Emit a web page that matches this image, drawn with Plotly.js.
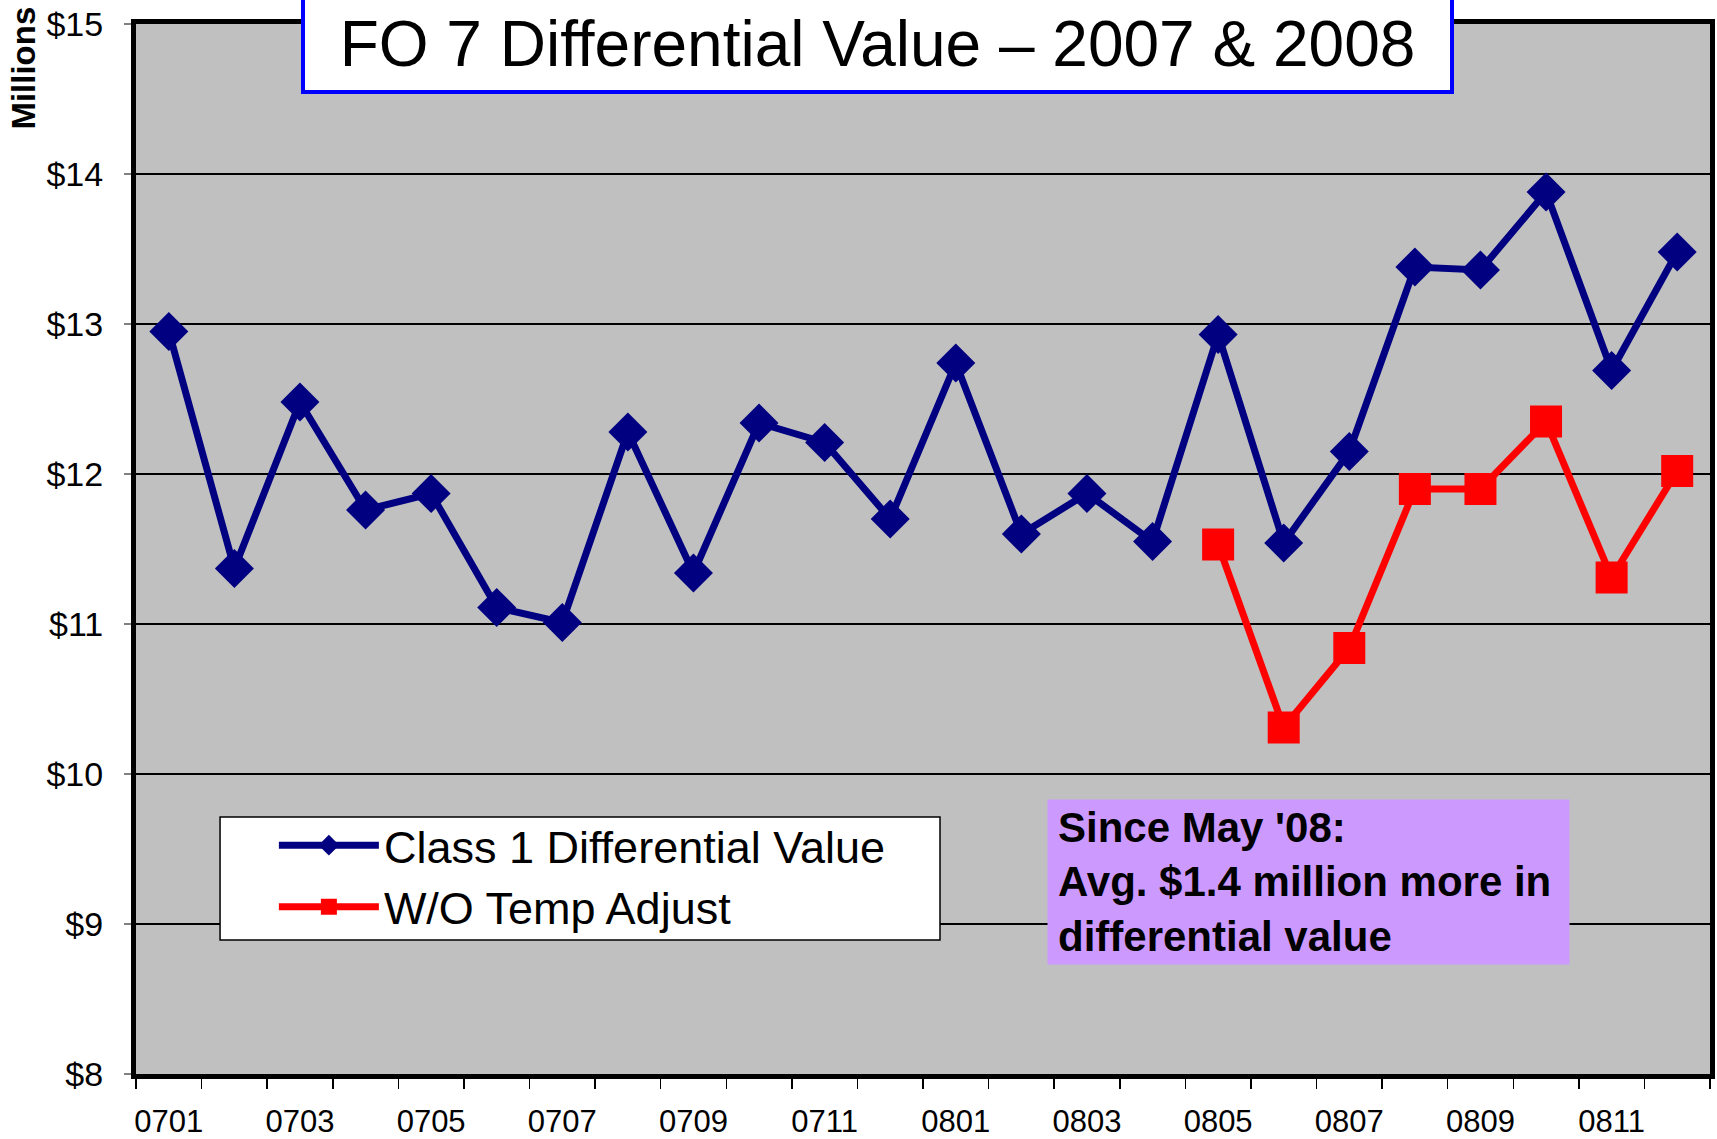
<!DOCTYPE html>
<html>
<head>
<meta charset="utf-8">
<script src="https://cdn.plot.ly/plotly-3.0.1.min.js"></script>
<style>html,body{margin:0;padding:0;background:#fff;}#chart{width:1717px;height:1139px;}</style>
</head>
<body>
<div id="chart"></div>
<script>
const months = ["0701","0702","0703","0704","0705","0706","0707","0708","0709","0710","0711","0712",
                "0801","0802","0803","0804","0805","0806","0807","0808","0809","0810","0811","0812"];
const class1Values = [12.95,11.37,12.48,11.76,11.87,11.11,11.01,12.28,11.34,12.34,12.21,11.70,
                      12.74,11.60,11.87,11.55,12.93,11.54,12.15,13.38,13.36,13.88,12.69,13.48];
const woTempMonths = ["0805","0806","0807","0808","0809","0810","0811","0812"];
const woTempValues = [11.53,10.31,10.84,11.90,11.90,12.35,11.31,12.02];
const tickLabels = months.map((m,i)=> i%2===0 ? m : "");
const chartTitle = "FO 7 Differential Value \u2013 2007 & 2008";
const noteText = "Since May '08:<br>Avg. $1.4 million more in<br>differential value";

const FONT = "Liberation Sans, Arial, sans-serif";

const traces = [
  {x: months, y: class1Values, name: "Class 1 Differential Value", type: "scatter", mode: "lines+markers",
   line: {color: "#000080", width: 7}, marker: {symbol: "diamond", size: 30, color: "#000080"}},
  {x: woTempMonths, y: woTempValues, name: "W/O Temp Adjust", type: "scatter", mode: "lines+markers",
   line: {color: "#ff0000", width: 7}, marker: {symbol: "square", size: 32, color: "#ff0000"}}
];

const layout = {
  width: 1717, height: 1139,
  margin: {l: 136, r: 7, t: 24, b: 65},
  paper_bgcolor: "#ffffff", plot_bgcolor: "#c0c0c0",
  font: {family: FONT, color: "#000"},
  showlegend: true,
  legend: {x: 0.0876, y: 0.252, xanchor: "left", yanchor: "top", bgcolor: "rgba(0,0,0,0)",
           borderwidth: 0, font: {size: 45, family: FONT}, itemwidth: 100},
  xaxis: {type: "category", categoryorder: "array", categoryarray: months,
          tickmode: "array", tickvals: months, ticktext: tickLabels, tickson: "boundaries", tickangle: 0,
          ticks: "outside", ticklen: 10, tickwidth: 1.5, tickcolor: "#000",
          showline: true, linecolor: "#000", linewidth: 5, mirror: true,
          showgrid: false, zeroline: false, range: [-0.5, 23.5],
          tickfont: {size: 31, family: FONT}, ticklabelstandoff: 16},
  yaxis: {range: [8, 15], dtick: 1, tick0: 8, tickprefix: "$",
          ticks: "outside", ticklen: 7, tickwidth: 1.5, tickcolor: "#808080",
          showline: true, linecolor: "#000", linewidth: 5, mirror: true,
          showgrid: true, gridcolor: "#000", gridwidth: 2, zeroline: false,
          tickfont: {size: 34, family: FONT}, ticklabelstandoff: 14},
  shapes: [
    {type: "rect", xref: "paper", yref: "paper", x0: 0.0534, x1: 0.5108, y0: 0.1276, y1: 0.2448,
     fillcolor: "#ffffff", line: {color: "#000", width: 1.5}, layer: "above"}
  ],
  annotations: [
    {text: chartTitle, xref: "paper", yref: "paper", x: 0.471, y: 0.981, xanchor: "center", yanchor: "middle",
     showarrow: false, font: {size: 64, family: FONT, color: "#000"}, bgcolor: "#ffffff",
     bordercolor: "#0000ff", borderwidth: 4, borderpad: 0, width: 1145, height: 92},
    {text: "<b>Millions</b>", xref: "paper", yref: "paper", x: -0.0715, y: 0.958, xanchor: "center", yanchor: "middle",
     textangle: -90, showarrow: false, font: {size: 33, family: FONT, color: "#000"}},
    {text: "<b>" + noteText + "</b>", xref: "paper", yref: "paper", x: 0.745, y: 0.183, xanchor: "center", yanchor: "middle",
     showarrow: false, align: "left", font: {size: 42, family: FONT, color: "#000"}, bgcolor: "#cc99ff",
     borderpad: 10, width: 501, height: 144}
  ]
};

Plotly.newPlot("chart", traces, layout, {displayModeBar: false, staticPlot: true});
</script>
</body>
</html>
